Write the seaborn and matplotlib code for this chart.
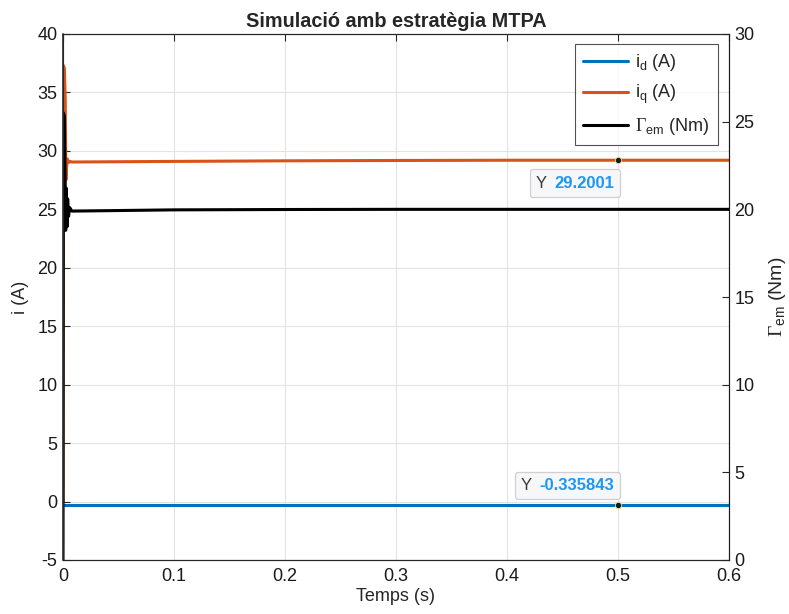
import matplotlib
matplotlib.use("Agg")
import matplotlib.pyplot as plt
import seaborn as sns
import pandas as pd
from matplotlib.offsetbox import TextArea, HPacker, AnnotationBbox

# --- simulation traces (time in s) ---
t_iq = [0.0, 0.0003, 0.0012, 0.0020, 0.0026, 0.0032, 0.0040, 0.0050, 0.0060,
        0.0080, 0.0100, 0.1, 0.2, 0.3, 0.4, 0.5, 0.6]
iq = [0.0, 37.3, 37.1, 34.5, 27.5, 28.6, 29.3, 29.0, 29.1,
      29.05, 29.05, 29.1, 29.15, 29.18, 29.2, 29.2001, 29.2]

t_id = [0.0, 0.0005, 0.01, 0.1, 0.2, 0.3, 0.4, 0.5, 0.6]
id_ = [-0.34, -0.34, -0.336, -0.336, -0.336, -0.336, -0.336, -0.335843, -0.336]

t_te = [0.0, 0.0004, 0.0012, 0.0018, 0.0024, 0.0030, 0.0036, 0.0042, 0.0050,
        0.0060, 0.0080, 0.0100, 0.1, 0.2, 0.3, 0.4, 0.5, 0.6]
te = [0.0, 25.5, 25.3, 22.5, 18.8, 21.2, 19.0, 20.6, 19.6,
      20.1, 19.9, 19.9, 19.97, 19.99, 20.0, 20.0, 20.0, 20.0]

tip_t = 0.5
x_ticks = [0, 0.1, 0.2, 0.3, 0.4, 0.5, 0.6]
y_left_ticks = [-5, 0, 5, 10, 15, 20, 25, 30, 35, 40]
y_right_ticks = [0, 5, 10, 15, 20, 25, 30]

BLUE = "#0072BD"
ORANGE = "#D95319"
BLACK = "#000000"

sns.set_style("white")
plt.rcParams["font.family"] = ["Liberation Sans", "DejaVu Sans"]
plt.rcParams["axes.unicode_minus"] = False
# TeX-like labels: sans text, serif capital Gamma
plt.rcParams["mathtext.fontset"] = "custom"
plt.rcParams["mathtext.rm"] = "Liberation Sans"
plt.rcParams["mathtext.sf"] = "Liberation Sans"
plt.rcParams["mathtext.it"] = "Liberation Sans"
plt.rcParams["mathtext.tt"] = "Liberation Serif"

GAMMA_EM = r"$\mathtt{\Gamma}_{\mathrm{em}}$"

fig = plt.figure(figsize=(7.89, 6.14), dpi=100)
ax = fig.add_axes([63 / 789, 54 / 614, 666 / 789, 526 / 614])
ax2 = ax.twinx()

df_id = pd.DataFrame({"t": t_id, "v": id_})
df_iq = pd.DataFrame({"t": t_iq, "v": iq})
df_te = pd.DataFrame({"t": t_te, "v": te})

sns.lineplot(data=df_id, x="t", y="v", ax=ax, color=BLUE, lw=2.2,
             label=r"i$_{\mathrm{d}}$ (A)", legend=False)
sns.lineplot(data=df_iq, x="t", y="v", ax=ax, color=ORANGE, lw=2.2,
             label=r"i$_{\mathrm{q}}$ (A)", legend=False)
sns.lineplot(data=df_te, x="t", y="v", ax=ax2, color=BLACK, lw=2.2,
             label=GAMMA_EM + " (Nm)", legend=False)

ax.set_xlim(0, 0.6)
ax.set_ylim(-5, 40)
ax2.set_ylim(0, 30)
ax.set_xticks(x_ticks)
ax.set_xticklabels(["0", "0.1", "0.2", "0.3", "0.4", "0.5", "0.6"])
ax.set_yticks(y_left_ticks)
ax2.set_yticks(y_right_ticks)

ax.grid(True, color="#e3e3e3", lw=0.8)
ax.set_axisbelow(True)

for a in (ax, ax2):
    a.tick_params(direction="in", length=5, width=0.8, labelsize=13,
                  colors="#262626", labelcolor="#1a1a1a")
    for s in a.spines.values():
        s.set_color("#262626")
        s.set_linewidth(0.8)
ax.tick_params(axis="x", top=True, pad=6)
ax.tick_params(axis="y", pad=4)
ax2.tick_params(axis="y", pad=4)
ax.spines["left"].set_color("#1a1a1a")
ax.spines["left"].set_linewidth(1.1)
ax2.spines["right"].set_color("#1a1a1a")

ax.set_xlabel("Temps (s)", fontsize=13, labelpad=2)
ax.set_ylabel("i (A)", fontsize=13, labelpad=6)
ax2.set_ylabel(GAMMA_EM + " (Nm)", fontsize=14, labelpad=9)
ax.set_title("Simulació amb estratègia MTPA", fontsize=14.3,
             fontweight="bold", pad=5)

h1, l1 = ax.get_legend_handles_labels()
h2, l2 = ax2.get_legend_handles_labels()
leg = ax2.legend(h1 + h2, l1 + l2, loc="upper right",
                 bbox_to_anchor=(0.9835, 0.981), fontsize=13,
                 frameon=True, fancybox=False, edgecolor="#262626",
                 handlelength=2.5, handletextpad=0.4, labelspacing=0.55,
                 borderpad=0.45, borderaxespad=0)
leg.get_frame().set_linewidth(0.8)


def data_tip(axis, t, series_t, series_v, offset, align):
    val = series_v[series_t.index(t)]
    axis.plot([t], [val], "o", color="#1a1a1a", ms=4.5,
              mec="#e8e0a0", mew=0.6, zorder=6)
    txt = HPacker(children=[
        TextArea("Y", textprops=dict(color="#3a3a3a", fontsize=12)),
        TextArea(f"{val:g}", textprops=dict(color="#1c97f5", fontsize=12,
                                           fontweight="bold")),
    ], align="baseline", pad=0, sep=5)
    ab = AnnotationBbox(txt, (t, val), xybox=offset, boxcoords="offset points",
                        box_alignment=align, frameon=True, pad=0.45,
                        bboxprops=dict(boxstyle="round,pad=0.45,rounding_size=0.2",
                                       fc="#f7f7f9", ec="#cfcfd4", lw=0.9),
                        zorder=7)
    axis.add_artist(ab)


data_tip(ax, tip_t, t_iq, iq, (-3, -11), (1, 1))
data_tip(ax, tip_t, t_id, id_, (-3, 9), (1, 0))

fig.savefig("out.png", dpi=100, facecolor="white")
